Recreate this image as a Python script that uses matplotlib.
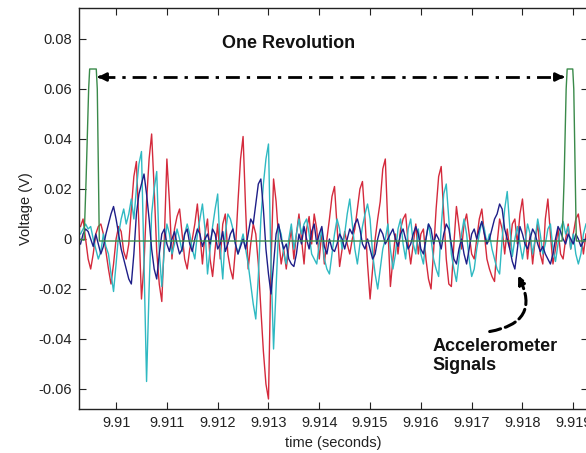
import matplotlib.pyplot as plt
import numpy as np

plt.rcParams['font.family'] = ['Liberation Sans', 'DejaVu Sans']

# accelerometer samples, mV, sampled every 50 us from t0
t0 = 9.9093
dt = 0.00005

red_mv = [5, 8, 0, -8, -12, -6, 2, 5, 6, 2,
          -5, -12, -18, -10, 0, 5, 3, -5, -8, -2,
          12, 25, 31, 5, -24, -10, 15, 32, 42, 20,
          -5, -18, -25, 0, 32, 15, -8, 4, 9, 12,
          2, -8, -12, -4, 0, 6, 14, 2, -10, 2,
          8, -8, -15, -4, 6, -8, 6, 10, -6, -12,
          -16, -4, 15, 32, 41, 12, -12, -2, 6, 2,
          -10, -28, -45, -58, -64, -10, 24, 15, 0, -10,
          -4, -12, -3, 4, -8, 2, 10, 0, -10, 4,
          9, -2, 10, 4, -8, 3, -10, 0, 8, 17,
          21, 5, -11, -4, 3, -2, -6, 0, 4, 12,
          20, 23, 8, -10, -24, -12, 0, 8, 15, 28,
          32, 5, -19, -8, 2, -6, 4, 8, 10, -2,
          -10, -2, 6, -6, 2, 4, -8, -16, -20, -5,
          12, 25, 29, 10, -8, -18, -19, -2, 13, 5,
          -4, 6, 10, 2, -6, -8, 0, 8, 12, 2,
          -8, -12, -15, -17, -2, 8, 4, -6, 4, -4,
          6, 8, -2, 10, 16, 4, -8, 2, -10, 0,
          6, -6, -10, 8, 16, 2, -10, -4, 4, -6,
          -8, 0, 6, -4, 2, 8, 10, 2, -6, 2]

cyan_mv = [2, 4, 6, 4, 5, 0, -4, -8, -5, 2,
           -3, -6, -14, -21, -10, 2, 8, 12, 6, 10,
           16, 8, 20, 30, 35, -10, -57, -20, 10, 20,
           27, -5, -19, -4, 6, 2, -6, -2, 4, 0,
           -5, 2, 6, 2, -4, -8, 2, 8, 14, 4,
           -14, -4, 5, 12, 18, -4, -16, 2, 10, 8,
           4, -2, -6, -2, 2, -4, -10, -18, -26, -32,
           -15, 8, 22, 32, 38, -10, -44, -20, 5, 2,
           -6, -10, 0, 6, -4, 2, 8, 2, 6, 8,
           2, -6, -8, -10, -2, 4, -8, -12, -14, -6,
           2, 8, 4, -4, 2, 10, 16, 6, -4, -10,
           -2, 5, 10, 14, 8, -6, -14, -20, -12, -4,
           0, 6, -4, -12, -6, 4, 8, -2, -8, 4,
           8, -2, -6, 4, -6, -10, 0, 6, 0, -8,
           -12, -15, 5, 18, 22, 8, -6, -12, -17, -8,
           2, 8, 2, -8, -15, -12, -4, 2, 7, 4,
           -2, 2, -4, -8, -12, -14, 0, 12, 19, 5,
           -7, 0, 5, -2, -8, -2, 6, 2, -6, 0,
           8, 2, -6, -2, 4, 6, -4, -9, -2, 4,
           7, 2, 5, -4, 2, -6, -10, -6, 2, 6]

navy_mv = [-2, 2, 4, 3, 0, -3, 2, -2, -6, -3,
           2, 6, 10, 13, 8, 2, -4, -8, -12, -16,
           -18, -6, 10, 18, 22, 26, 18, 8, -4, -12,
           -16, -6, 2, 4, -2, -5, 0, 3, -2, -6,
           -4, 2, 4, -2, -5, 0, 4, 2, -3, 0,
           2, -2, 4, 2, -4, -2, 3, -5, -2, 2,
           4, -2, -6, -3, 0, -4, 2, 8, 6, 14,
           22, 24, 12, -4, -14, -22, -10, 2, 6, 0,
           -4, -2, -8, -10, -11, -6, 2, -2, 5, 0,
           -4, 3, 6, -2, 2, 5, -3, -6, 0, -4,
           -5, -2, 2, 0, -4, 0, 4, 2, 6, 8,
           4, -2, -4, 0, -4, -8, -6, 0, 4, 2,
           -2, 0, 2, 4, 0, -3, 2, 4, 0, -4,
           -2, 2, 5, 2, -4, -6, 0, 6, 4, -2,
           2, 0, -4, 2, 6, 4, -2, -8, -10, -4,
           0, -6, -10, -4, 2, 4, 0, 4, 7, 2,
           -2, 0, 4, 8, 10, 14, 12, 4, 0, -4,
           -9, -12, -4, 5, 2, -2, -4, 0, 4, 2,
           -2, -5, -3, -6, -8, -10, -6, 0, 5, 3,
           0, -2, 2, 0, -2, 2, 0, -3, -1, 0]

# tachometer pulse (once per revolution)
tach_t = [9.90927, 9.90937, 9.90941, 9.90946, 9.90948, 9.90961, 9.90963, 9.90967,
          9.91878, 9.91882, 9.91886, 9.91888, 9.91899, 9.91901, 9.91906, 9.91927]
tach_v = [0.0, -0.0005, 0.024, 0.060, 0.068, 0.068, 0.060, -0.0008,
          -0.0008, 0.024, 0.060, 0.068, 0.068, 0.060, -0.0008, -0.0008]

xticks = [9.91, 9.911, 9.912, 9.913, 9.914, 9.915, 9.916, 9.917, 9.918, 9.919]
xticklabels = ['9.91', '9.911', '9.912', '9.913', '9.914', '9.915', '9.916', '9.917', '9.918', '9.919']
yticks = [-0.06, -0.04, -0.02, 0, 0.02, 0.04, 0.06, 0.08]
yticklabels = ['-0.06', '-0.04', '-0.02', '0', '0.02', '0.04', '0.06', '0.08']

t = t0 + dt * np.arange(len(red_mv))
red = np.array(red_mv) / 1000
cyan = np.array(cyan_mv) / 1000
navy = np.array(navy_mv) / 1000

fig = plt.figure(figsize=(5.86, 4.53), dpi=100)
ax = fig.add_axes([79 / 586, 44 / 453, 509 / 586, 401 / 453])

ax.plot(t, red, color='#d42a3c', lw=1.0)
ax.plot(t, cyan, color='#2fb9c2', lw=1.0)
ax.plot(t, navy, color='#1e1e88', lw=1.0)
ax.plot(tach_t, tach_v, color='#3a8a4a', lw=1.0)

ax.set_xlim(9.90927, 9.91929)
ax.set_ylim(-0.068, 0.0924)
ax.set_xticks(xticks)
ax.set_xticklabels(xticklabels)
ax.set_yticks(yticks)
ax.set_yticklabels(yticklabels)
ax.tick_params(direction='in', top=True, right=True, length=5, width=0.8,
               labelsize=10.5, pad=5, colors='#222222')
for s in ax.spines.values():
    s.set_linewidth(1.0)
    s.set_color('#222222')

ax.set_xlabel('time (seconds)', fontsize=10.5, labelpad=4, color='#222222')
ax.set_ylabel('Voltage (V)', fontsize=10.5, labelpad=4, color='#222222')

# one revolution arrow
x1, x2, ya = 9.909585, 9.918876, 0.0648
ax.plot([x1 + 0.00012, x2 - 0.00012], [ya, ya], color='k', lw=2,
        linestyle=(0, (5, 2.5, 1.2, 2.5)))
ax.annotate('', xy=(x1, ya), xytext=(x1 + 0.00016, ya),
            arrowprops=dict(arrowstyle='-|>', color='k', lw=2, mutation_scale=12))
ax.annotate('', xy=(x2, ya), xytext=(x2 - 0.00016, ya),
            arrowprops=dict(arrowstyle='-|>', color='k', lw=2, mutation_scale=12))
ax.text(9.91340, 0.0784, 'One Revolution', fontsize=13, fontweight='bold',
        ha='center', va='center', color='#111111')

# accelerometer label and curved arrow
ax.text(9.91622, -0.0468, 'Accelerometer\nSignals', fontsize=13, fontweight='bold',
        ha='left', va='center', color='#111111', linespacing=1.15)
ax.annotate('', xy=(9.91789, -0.0136), xytext=(9.91730, -0.0372),
            arrowprops=dict(arrowstyle='-|>', color='k', lw=2.2, linestyle='--',
                            mutation_scale=12, connectionstyle='arc3,rad=0.7'))

fig.savefig('out.png', dpi=100)
